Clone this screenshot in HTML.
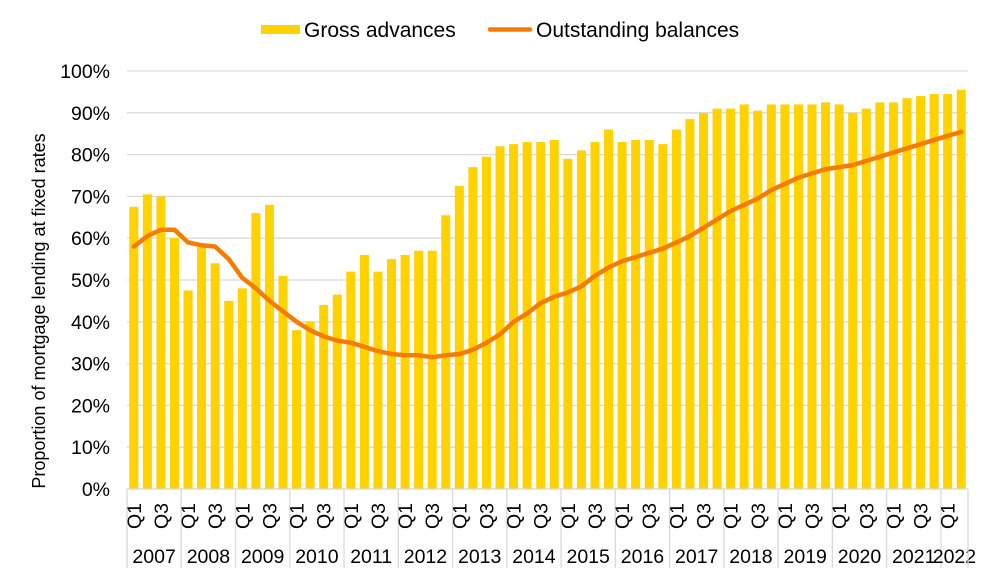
<!DOCTYPE html>
<html><head><meta charset="utf-8"><style>
body{margin:0;background:#fff;}
svg{display:block;font-family:"Liberation Sans",Arial,sans-serif;}
</style></head><body>
<svg id="c" width="991" height="579" xmlns="http://www.w3.org/2000/svg"></svg>
<script>
const bars=[67.5,70.5,70,60,47.5,58,54,45,48,66,68,51,38,40,44,46.5,52,56,52,55,56,57,57,65.5,72.5,77,79.5,82,82.5,83,83,83.5,79,81,83,86,83,83.5,83.5,82.5,86,88.5,90,91,91,92,90.5,92,92,92,92,92.5,92,90,91,92.5,92.5,93.5,94,94.5,94.5,95.5];
const line=[58,60.5,62,62,59,58.3,58,55,50.5,48,45,42.5,40,38,36.5,35.5,35,34,33,32.3,32,32,31.5,32,32.3,33.3,35,37,40,42,44.5,46,47,48.5,51,53,54.5,55.5,56.5,57.5,59,60.5,62.5,64.5,66.5,68,69.5,71.5,73,74.5,75.5,76.5,77,77.5,78.5,79.5,80.5,81.5,82.5,83.5,84.5,85.4];
const x0=127,x1=968,y0=489,yk=4.18,n=62,w=(x1-x0)/n;
const fs=19.5;
let s='';
for(let i=0;i<=10;i++){const y=y0-i*10*yk;s+=`<line x1="${x0}" x2="${x1}" y1="${y}" y2="${y}" stroke="#d9d9d9" stroke-width="1.3"/>`;
s+=`<text x="110" y="${y+7}" font-size="${fs}" text-anchor="end">${i*10}%</text>`;}
bars.forEach((v,i)=>{const bw=9,x=x0+i*w+(w-bw)/2;s+=`<rect x="${x}" y="${y0-v*yk}" width="${bw}" height="${v*yk}" fill="#ffd200"/>`;});
s+=`<polyline fill="none" stroke="#f57c00" stroke-width="4.5" stroke-linejoin="round" stroke-linecap="round" points="${line.map((v,i)=>(x0+(i+.5)*w).toFixed(1)+','+(y0-v*yk).toFixed(1)).join(' ')}"/>`;
s+=`<line x1="${x0}" x2="${x1}" y1="${y0}" y2="${y0}" stroke="#d9d9d9" stroke-width="1.3"/>`;
for(let yr=0;yr<16;yr++){const xs=x0+yr*4*w;s+=`<line x1="${xs}" x2="${xs}" y1="${y0}" y2="568" stroke="#d9d9d9" stroke-width="1.3"/>`;
const nq=yr==15?2:4;s+=`<text x="${xs+nq*w/2}" y="563" font-size="${fs}" text-anchor="middle">${2007+yr}</text>`;
for(let q=0;q<nq;q+=2){const cx=x0+(yr*4+q+.5)*w;s+=`<text transform="translate(${cx+7},${529}) rotate(-90)" font-size="${fs}" text-anchor="start">Q${q+1}</text>`;}}
s+=`<line x1="${x1}" x2="${x1}" y1="${y0}" y2="568" stroke="#d9d9d9" stroke-width="1.3"/>`;
s+=`<text transform="translate(45,311) rotate(-90)" font-size="18" text-anchor="middle">Proportion of mortgage lending at fixed rates</text>`;
s+=`<rect x="261" y="25" width="39" height="9" fill="#ffd200"/><text x="304" y="37" font-size="21">Gross advances</text>`;
s+=`<line x1="490" x2="530" y1="29.5" y2="29.5" stroke="#f57c00" stroke-width="4.5" stroke-linecap="round"/><text x="536" y="37" font-size="21">Outstanding balances</text>`;
document.getElementById('c').innerHTML=s;
</script>
</body></html>
